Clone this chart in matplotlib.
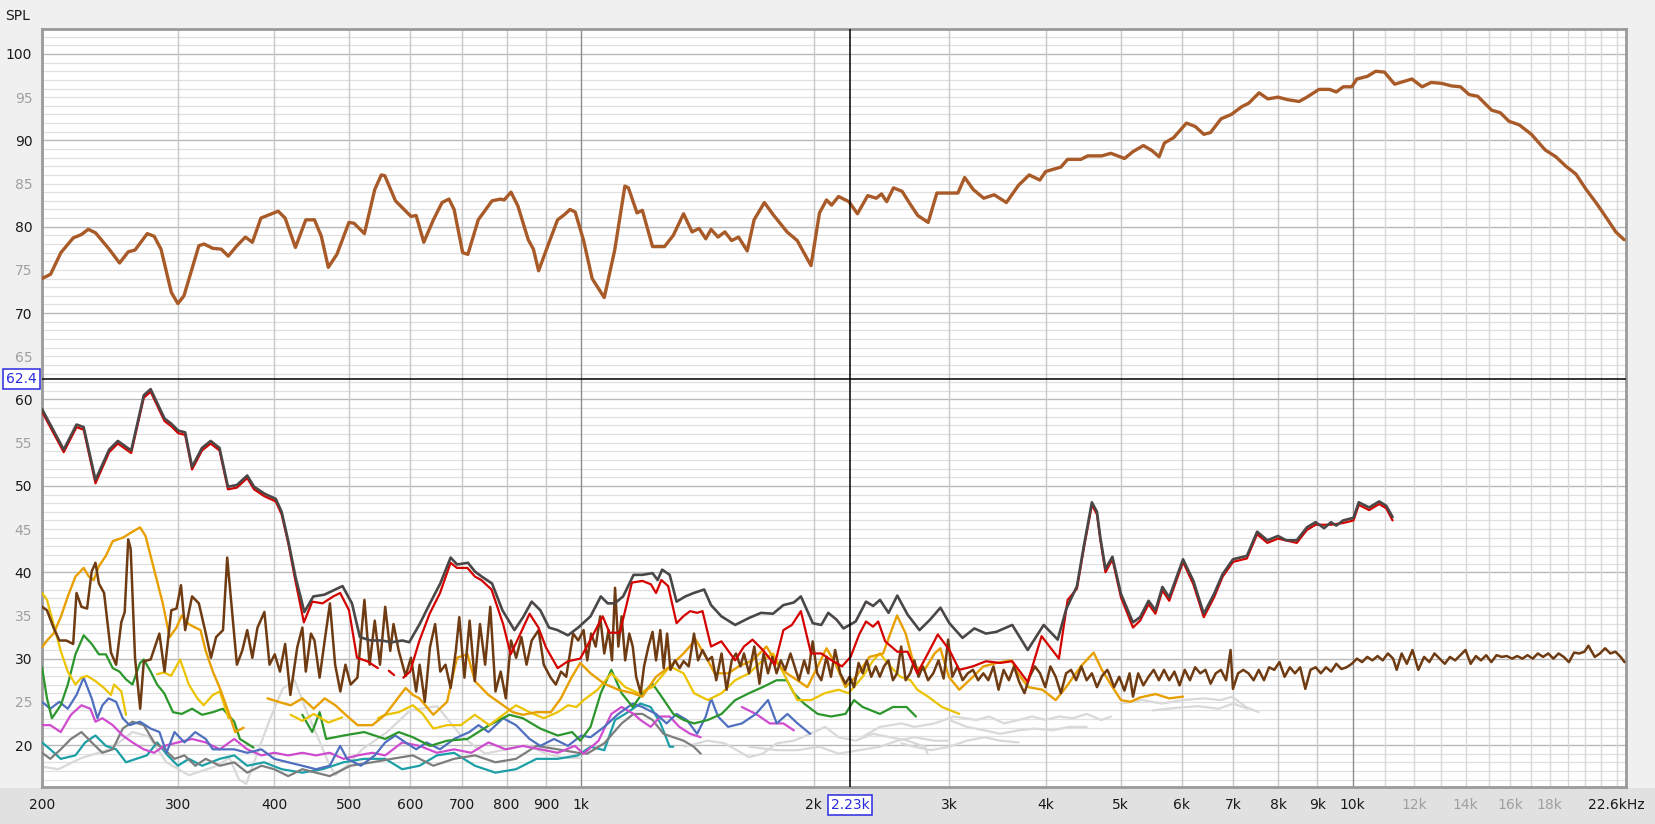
import numpy as np
import matplotlib
matplotlib.use("Agg")
import matplotlib.pyplot as plt
from matplotlib.patches import Rectangle
import matplotlib.transforms as mtransforms

N = None
# ---------------- data (Hz, dB SPL) ----------------
top_f = [200, 205.2, 211.6, 219.5, 225, 229.6, 234.6, 244.4, 252.1, 258.7, 264, 273.8, 279.5, 285.3, 294.2, 300, 305.5,
         319.4, 324.4, 332.9, 341.5, 348.7, 357.8, 367, 374.7, 384.4, 394.4, 404.7, 413.2, 426.1, 439.5, 451, 460.3,
         470, 482.2, 499.9, 507.6, 523.5, 539.9, 550.6, 556.4, 574.3, 586.3, 601.5, 610.9, 625, 643.2, 660, 673.7,
         684.2, 701.9, 712.9, 735.3, 766.2, 786.2, 794.4, 810.8, 827.7, 853.6, 866.9, 880.4, 903.3, 931.7, 951, 967,
         982, 1007, 1033, 1071, 1105, 1139, 1151, 1181, 1200, 1237, 1282, 1316, 1357, 1392, 1421, 1450, 1473, 1504,
         1535, 1566, 1599, 1641, 1675, 1727, 1773, 1848, 1905, 1985, 2036, 2079, 2111, 2155, 2223, 2280, 2351, 2412,
         2450, 2488, 2539, 2605, 2674, 2730, 2816, 2890, 3000, 3077, 3140, 3222, 3324, 3429, 3556, 3688, 3807, 3929,
         4000, 4184, 4269, 4442, 4534, 4727, 4858, 5060, 5190, 5353, 5494, 5610, 5700, 5857, 6087, 6250, 6410, 6540,
         6750, 6960, 7180, 7330, 7560, 7760, 8000, 8240, 8520, 8720, 9040, 9330, 9520, 9720, 9970, 10120, 10440,
         10710, 10990, 11330, 11630, 11930, 12300, 12630, 13030, 13430, 13790, 14150, 14520, 15130, 15530, 15940,
         16430, 17040, 17750, 18330, 18890, 19460, 20070, 20700, 21330, 21920, 22470]
top_db = [74.0, 74.5, 77.0, 78.7, 79.1, 79.7, 79.3, 77.4, 75.8, 77.1, 77.3, 79.2, 78.9, 77.4, 72.4, 71.1, 72.0,
          77.8, 78.0, 77.5, 77.4, 76.6, 77.8, 78.8, 78.2, 81.0, 81.4, 81.8, 81.0, 77.6, 80.8, 80.8, 78.9,
          75.3, 76.8, 80.5, 80.4, 79.2, 84.3, 86.0, 85.9, 83.0, 82.2, 81.2, 81.3, 78.2, 80.8, 82.8, 83.2,
          82.0, 77.0, 76.8, 80.8, 83.0, 83.2, 83.1, 84.0, 82.4, 78.5, 77.4, 74.9, 77.6, 80.8, 81.4, 82.0,
          81.7, 78.4, 74.0, 71.8, 77.3, 84.7, 84.5, 81.6, 81.9, 77.7, 77.7, 79.0, 81.5, 79.4, 79.8, 78.6, 79.7, 78.8,
          79.4, 78.4, 78.8, 77.2, 80.8, 82.8, 81.4, 79.4, 78.4, 75.5, 81.6, 83.1, 82.5, 83.5, 82.9, 81.5, 83.6, 83.3,
          83.8, 82.9, 84.5, 84.1, 82.5, 81.3, 80.5, 83.9, 83.9, 83.9, 85.7, 84.3, 83.3, 83.7, 82.8, 84.8, 86.0, 85.4,
          86.4, 86.9, 87.8, 87.8, 88.2, 88.2, 88.5, 87.9, 88.7, 89.4, 88.8, 88.1, 89.7, 90.3, 92.0, 91.6, 90.7, 90.9,
          92.5, 93.0, 93.9, 94.3, 95.5, 94.8, 95.0, 94.7, 94.5, 95.0, 95.9, 95.9, 95.6, 96.2, 96.2, 97.1, 97.4,
          98.0, 97.9, 96.5, 96.8, 97.1, 96.2, 96.7, 96.6, 96.3, 96.2, 95.3, 95.1, 93.5, 93.2, 92.2,
          91.8, 90.7, 88.9, 88.1, 87.0, 86.1, 84.3, 82.7, 81.0, 79.4, 78.5]

gray_f = [200, 213.4, 221.7, 226.5, 234.6, 244.4, 250.8, 254.5, 261, 271, 276.6, 288.3, 294.2, 300.3, 306.6, 313,
          322.4, 330.8, 339.7, 348.4, 357.8, 369, 376.6, 388.4, 401.8, 408.9, 417.4, 426.1, 437.6, 449.5, 464.4, 480,
          490.4, 504.4, 516.5, 533.3, 550.6, 568.1, 586.3, 598.4, 617.3, 636.6, 656.5, 677.1, 690.3, 712.9, 727.8,
          742.9, 766.2, 790.3, 819.2, 840.6, 862.5, 885, 908, 931.7, 961, 991, 1028, 1060, 1082, 1105, 1133, 1169,
          1200, 1237, 1256, 1273, 1302, 1329, 1364, 1399, 1443, 1473, 1519, 1583, 1649, 1710, 1772, 1828, 1886, 1926,
          1996, 2047, 2090, 2143, 2187, 2268, 2339, 2389, 2439, 2502, 2568, 2648, 2744, 2831, 2921, 3000, 3120, 3232,
          3346, 3452, 3619, 3790, 3975, 4145, 4250, 4390, 4480, 4590, 4660, 4708, 4780, 4880, 5006, 5189, 5300, 5436,
          5549, 5665, 5782, 6025, 6214, 6410, 6610, 6782, 6993, 7290, 7516, 7750, 8000, 8200, 8460, 8720, 8950, 9180,
          9370, 9520, 9716, 10020, 10180, 10500, 10820, 11050, 11260]
gray_db = [58.9, 54.2, 57.1, 56.8, 50.7, 54.2, 55.2, 54.8, 54.1, 60.5, 61.2, 57.8, 57.2, 56.4, 56.2, 52.2,
           54.4, 55.2, 54.4, 49.9, 50.1, 51.2, 49.9, 49.1, 48.5, 47.0, 43.5, 39.5, 35.4, 37.2, 37.4, 38.0,
           38.4, 36.4, 32.5, 32.1, 32.1, 31.9, 32.1, 31.9, 34.0, 36.4, 38.7, 41.7, 40.9, 41.1, 40.1,
           39.5, 38.7, 35.6, 33.3, 34.8, 36.6, 35.6, 33.6, 33.3, 32.7, 33.6, 34.9, 37.2, 36.4, 36.4, 37.2, 39.7,
           39.7, 39.9, 39.1, 40.3, 39.7, 36.6, 37.2, 37.6, 38.0, 36.2, 34.9, 33.9, 34.7, 35.3, 35.2, 36.2, 36.5, 37.2,
           34.1, 33.9, 35.3, 34.5, 33.5, 34.3, 36.6, 36.1, 36.8, 35.3, 37.3, 35.1, 33.3, 34.5, 35.9, 34.1, 32.4, 33.5,
           32.9, 33.1, 33.9, 31.0, 33.9, 32.2, 35.7, 38.4, 43.0, 48.1, 47.0, 44.0, 40.4, 41.8, 37.5, 34.2, 34.8, 36.7,
           35.6, 38.3, 37.1, 41.5, 39.0, 35.2, 37.5, 39.8, 41.5, 41.9, 44.7, 43.7, 44.2, 43.7, 43.7, 45.2, 45.8, 45.1,
           45.8, 45.4, 46.0, 46.3, 48.1, 47.5, 48.2, 47.7, 46.4]

red_f = [200, 213.4, 221.7, 226.5, 234.6, 244.4, 250.8, 254.5, 261, 271, 276.6, 288.3, 294.2, 300.3, 306.6, 313,
         322.4, 330.8, 339.7, 348.4, 357.8, 369, 376.6, 388.4, 401.8, 408.9, 417.4, 426.1, 437, 448, 462, 477, 487,
         500, 512, 528, 545, 556, 563, 572, 580, 588, 600, 617, 636, 656, 677, 690, 712, 728, 742, 765, 792, 810, 830,
         857, 880, 900, 932, 961, 997, 1028, 1066, 1088, 1122, 1163, 1200, 1231, 1250, 1270, 1296, 1329, 1356, 1384,
         1413, 1436, 1473, 1519, 1583, 1625, 1667, 1719, 1781, 1828, 1875, 1926, 1985, 2047, 2111, 2177, 2234, 2292,
         2339, 2389, 2426, 2477, 2568, 2648, 2726, 2814, 2898, 3000, 3090, 3217, 3346, 3488, 3619, 3790, 3950, 4160,
         4270, 4390, 4480, 4590, 4660, 4708, 4780, 4880, 5006, 5189, 5300, 5436, 5549, 5665, 5782, 6025, 6214, 6410,
         6610, 6782, 6993, 7290, 7516, 7750, 8000, 8460, 8720, 8950, 9370, 9716, 10020, 10180, 10500, 10820, 11050,
         11260]
red_db = [58.6, 53.9, 56.8, 56.5, 50.3, 53.9, 54.9, 54.5, 53.8, 60.2, 60.9, 57.5, 56.9, 56.1, 55.9, 51.9,
          54.1, 54.9, 54.1, 49.6, 49.8, 50.9, 49.6, 48.8, 48.2, 46.7, 43.2, 39.0, 34.2, 36.6, 36.4, 37.2, 37.6,
          35.6, 30.1, 29.7, 28.9, N, 28.6, 28.1, N, 27.8, 28.5, 32.1, 35.2, 37.6, 41.1, 40.5, 40.5, 39.5, 39.1, 38.0,
          34.0, 30.5, 32.5, 35.2, 33.6, 31.3, 28.9, 29.7, 30.0, 32.2, 34.9, 33.0, 33.0, 38.8, 39.0, 38.6, 37.6,
          39.1, 38.4, 34.1, 34.9, 35.5, 35.3, 35.5, 31.4, 32.0, 29.8, 31.4, 32.2, 31.0, 29.3, 33.3, 33.9, 35.5, 30.6,
          30.6, 29.8, 29.1, 30.2, 32.8, 34.3, 33.7, 34.3, 32.0, 30.8, 30.8, 28.3, 30.6, 32.8, 31.0, 28.7, 29.1, 29.7,
          29.5, 29.7, 27.3, 32.6, 30.0, 36.8, 38.1, 42.7, 47.8, 46.7, 43.7, 40.0, 41.5, 37.1, 33.6, 34.4, 36.3, 35.2,
          37.9, 36.7, 41.2, 38.6, 34.8, 37.1, 39.5, 41.2, 41.6, 44.4, 43.4, 43.9, 43.4, 44.9, 45.5, 45.5, 45.7, 46.0,
          47.8, 47.2, 47.9, 47.4, 46.0]

brown_f = [200, 203, 207, 210.6, 215, 219.5, 221.7, 225, 228.8, 232, 234.6, 237, 240.7, 245.7, 249.5, 253.4, 256,
           258.7, 260.6, 264, 268.1, 271, 276.6, 283.9, 288.3, 294.2, 298.8, 302.8, 306.6, 313, 319.4, 326.1, 331.2,
           336.3, 343.3, 347.6, 352.3, 357.8, 363.5, 369, 374.7, 380.5, 388.4, 394.4, 400.6, 406.9, 413.2, 419.7,
           428.4, 435, 439.5, 446.3, 451, 458, 465, 472.3, 479.7, 487.2, 494.7, 502.4, 512.7, 523.5, 531.7, 539.9,
           548.4, 557, 565.5, 571, 580, 592, 601.5, 610.9, 617.3, 626.9, 636.6, 646.5, 656.5, 666.8, 677.1, 687.7,
           694.8, 705.6, 716.6, 727.8, 739.1, 750.6, 762.2, 774.1, 786.2, 798.4, 810.8, 823.4, 836.3, 849.3, 862.5,
           880.4, 894.1, 912.7, 926.9, 941.4, 956, 976, 991,
           1007, 1018, 1030, 1044, 1058, 1071, 1085, 1096, 1106, 1117, 1128, 1140, 1154, 1166, 1178, 1194, 1206,
           1222, 1237, 1250, 1266, 1279, 1292, 1305, 1323, 1341, 1357, 1378, 1400, 1417, 1436, 1459, 1477, 1496,
           1520, 1543, 1567, 1587, 1608, 1625, 1650, 1676, 1702, 1723, 1746, 1769, 1791, 1814, 1838, 1867, 1890,
           1915, 1945, 1969, 1995, 2022, 2047, 2079, 2107, 2133, 2166, 2200, 2227, 2257, 2288, 2316, 2345, 2376,
           2408, 2438, 2468, 2501, 2535, 2566, 2598, 2633, 2669, 2702, 2736, 2772, 2815, 2859, 2904, 2949, 2989,
           3026, 3073, 3121, 3169, 3219, 3269, 3320, 3370, 3422, 3474, 3527, 3583, 3638, 3695, 3753, 3812, 3872,
           3932, 3994, 4056, 4120, 4184, 4250, 4314, 4380, 4449, 4519, 4590, 4660, 4732,
           4806, 4830, 4904, 4980, 5058, 5136, 5189, 5270, 5352, 5436, 5520, 5606, 5693, 5782, 5872, 5963, 6056,
           6150, 6246, 6343, 6441, 6542, 6643, 6747, 6851, 6943, 6993, 7101, 7212, 7324, 7438, 7553, 7671, 7790,
           7911, 8034, 8159, 8286, 8415, 8546, 8679, 8813, 8951, 9090, 9231, 9373, 9519, 9666, 9817, 9969, 10124,
           10281, 10441, 10603, 10768, 10935, 11105, 11278, 11400, 11570, 11750, 11950, 12160, 12372, 12564, 12760,
           12958, 13160, 13364, 13572, 13783, 13998, 14216, 14437, 14661, 14889, 15121, 15356, 15595, 15837, 16084,
           16334, 16588, 16846, 17108, 17374, 17644, 17919, 18197, 18480, 18768, 19060, 19356, 19657, 19963, 20200,
           20589, 20909, 21234, 21565, 21900, 22241, 22500]
brown_db = [36.0, 35.6, 33.6, 32.1, 32.1, 31.7, 37.6, 36.0, 35.8, 40.1, 41.1, 38.7, 37.6, 30.7, 29.3, 34.2, 35.4,
            43.8, 42.7, 30.1, 24.2, 29.7, 29.9, 32.9, 28.5, 35.6, 35.8, 38.5, 33.3, 37.2, 36.4, 32.9, 30.1,
            32.5, 33.3, 41.7, 36.0, 29.3, 30.9, 33.3, 30.1, 33.6, 35.4, 29.3, 30.5, 28.5, 31.7, 25.8,
            31.3, 33.6, 28.5, 32.9, 32.1, 27.8, 32.1, 36.4, 29.3, 26.2, 29.3, 27.0, 27.8, 36.8, 29.3, 34.4,
            29.3, 36.0, 30.9, 34.0, 30.9, 28.0, 30.1, 26.2, 29.3, 25.0, 31.3, 34.0, 28.5, 29.3, 26.6, 30.9,
            34.8, 27.8, 34.4, 27.4, 34.0, 29.3, 36.0, 26.2, 28.5, 25.4, 32.1, 30.1, 32.5, 29.3, 32.1,
            33.3, 29.3, 27.8, 27.0, 28.5, 27.9, 32.9, 32.1,
            33.3, 29.8, 32.9, 31.4, 34.9, 30.6, 33.3, 29.8, 38.2, 31.4, 34.9, 29.8, 32.9, 31.4, 27.9, 26.0, 29.1,
            31.4, 33.1, 29.8, 33.3, 28.9, 32.9, 28.7, 29.8, 28.9, 29.7, 29.1, 32.9, 29.8, 31.0, 29.8, 30.2, 27.5,
            30.6, 26.4, 29.8, 30.6, 29.1, 30.6, 28.3, 31.4, 27.1, 30.6, 28.3, 30.2, 28.3, 29.8, 28.7, 30.6, 29.1,
            27.5, 29.8, 28.3, 32.0, 28.3, 27.5, 30.2, 27.9, 31.0, 28.3, 27.1, 27.9, 26.7, 29.5, 28.3, 29.8, 27.9,
            29.1, 27.9, 29.1, 29.8, 27.5, 28.3, 31.4, 27.5, 28.3, 29.8, 27.9, 29.1, 27.5, 28.3, 29.8, 27.7, 32.2,
            27.9, 29.1, 27.5, 28.3, 28.7, 27.5, 28.3, 27.5, 29.1, 26.4, 28.7, 27.5, 29.1, 27.3, 26.0, 27.9, 29.1,
            28.3, 26.7, 29.1, 27.9, 26.0, 28.3, 28.7, 27.5, 29.1, 27.5, 28.3, 26.7, 28.0,
            28.7, 28.3, 26.7, 27.9, 26.3, 28.3, 25.6, 28.3, 26.9, 27.9, 28.7, 27.5, 28.7, 27.5, 28.5, 26.9, 28.7,
            27.5, 29.0, 28.3, 28.7, 27.1, 28.3, 28.7, 27.5, 31.0, 26.5, 28.3, 28.7, 28.3, 27.5, 28.7, 27.5, 29.0,
            28.7, 29.6, 27.9, 29.0, 28.3, 29.0, 26.5, 28.7, 29.0, 28.3, 29.0, 28.5, 29.4, 28.8, 29.0, 29.4, 30.0,
            29.6, 30.2, 29.8, 30.3, 29.8, 30.6, 30.0, 28.7, 30.6, 29.4, 31.0, 28.7, 30.2, 29.6, 30.6,
            30.0, 29.4, 30.2, 29.8, 30.4, 31.0, 29.4, 30.3, 29.8, 30.4, 29.6, 30.4, 30.2, 30.3, 30.0,
            30.3, 30.0, 30.4, 30.0, 30.6, 30.2, 30.6, 30.0, 30.6, 30.2, 29.6, 30.7, 30.6, 30.8, 31.5,
            30.2, 30.6, 31.2, 30.6, 30.8, 30.2, 29.6]

orange_f = [200, 203, 207, 211.5, 216, 221, 226.5, 230, 233.4, 237, 242, 247, 254.5, 261, 268, 272.4, 279.5, 286.8,
            292.7, 298.8, 303.5, 309.8, 316, 321, 326, 333, 340, 349, 356, 365, 380, 392, 405, 420, 435, 450, 465,
            480, 495, 513, 536, 557, 592, 605, 617, 643, 670, 690, 712, 728, 758, 792, 815, 840, 875, 913, 941, 971,
            997, 1028, 1071, 1117, 1166, 1200, 1250, 1303, 1357, 1407, 1459, 1489, 1551, 1600, 1667, 1738, 1791,
            1847, 1905, 1964, 2025, 2079, 2133, 2200, 2270, 2364, 2462, 2515, 2566, 2633, 2702, 2786, 2871, 2920,
            2995, 3090, 3219, 3320, 3456, 3610, 3680, 3797, 3960, 4120, 4250, 4440, 4614, 4730, 4850, 5006, 5150,
            5300, 5550, 5780, 6025]
orange_db = [31.3, 32.1, 32.9, 34.8, 37.2, 39.5, 40.5, 39.5, 39.1, 40.7, 41.9, 43.6, 44.0, 44.6, 45.2, 44.2, 40.3, 36.4,
             32.5, 33.6, 35.0, 34.0, 33.6, 33.3, 30.9, 28.5, 26.6, 23.8, 21.5, 22.0, N, 25.4, 25.0, 24.6, 25.4, 24.2,
             25.4, 24.6, 23.5, 22.3, 22.3, 23.5, 26.6, 25.8, 25.4, 23.5, 25.0, 30.1, 30.5, 27.4, 25.8, 24.6, 23.8,
             23.5, 23.8, 23.8, 25.4, 27.8, 29.5, 28.3, 27.1, 26.4, 26.0, 25.6, 27.9, 29.1, 30.6, 32.2, 29.8, 28.3,
             28.3, 29.1, 29.8, 31.4, 29.5, 28.3, 27.5, 26.7, 29.1, 31.2, 29.5, 26.7, 27.9, 30.2, 30.6, 32.9, 35.0,
             32.9, 29.1, 28.7, 30.6, 31.2, 27.9, 26.4, 27.9, 29.1, 29.5, 29.8, 28.3, 26.7, 26.4, 25.2, 26.7, 29.1,
             30.7, 28.7, 27.1, 25.2, 25.0, 25.5, 25.9, 25.4, 25.6]

yellow_f = [200, 203, 207, 211.5, 216, 221, 225, 228.8, 234.6, 240.7, 245.7, 248, 253.4, 257, 270, 282, 288, 294,
            302, 310, 318, 324, 333, 340, 349, 360, 420, 435, 450, 470, 490, 520, 545, 557, 580, 605, 623, 643, 670,
            698, 728, 760, 792, 823, 857, 894, 932, 961, 986, 1007, 1050, 1094, 1140, 1187, 1237, 1303, 1357,
            1400, 1459, 1520, 1583, 1650, 1718, 1773, 1829, 1906, 1985, 2068, 2155, 2220, 2316, 2390, 2438, 2515,
            2592, 2671, 2726, 2815, 2934, 3090]
yellow_db = [37.6, 36.8, 34.0, 30.9, 28.5, 27.0, 27.8, 28.0, 27.4, 26.6, 25.8, 27.0, 26.2, 23.5, N, 28.2, 28.4, 28.0,
             29.9, 27.0, 25.4, 24.6, 25.8, 26.2, 23.1, N, 23.5, 22.8, 23.6, 22.6, 23.2, N, 23.1, 23.5, 23.8, 24.6,
             23.6, 21.9, 22.3, 22.3, 23.5, 22.3, 23.5, 24.6, 23.8, 23.1, 23.8, 24.6, 24.4, 25.2, 26.4, 28.3, 26.7,
             26.0, 26.7, 29.1, 28.3, 26.0, 25.2, 26.0, 27.5, 28.3, 29.8, 30.6, 28.3, 25.2, 25.2, 26.0, 26.4, 26.0,
             27.9, 29.8, 30.6, 29.1, 27.9, 27.5, 26.4, 25.6, 24.4, 23.6]

green_f = [200, 203, 206, 211.5, 216, 221, 226.5, 232, 237, 242, 247, 252, 257, 262, 268, 271, 276.6, 282, 288, 295.7,
           303.5, 313, 322.5, 333, 343, 355, 361, 376, 420, 435, 448, 458, 467, 492, 523, 557, 580, 605, 637, 670,
           712, 760, 807, 840, 885, 932, 973, 997, 1028, 1060, 1094, 1128, 1166, 1200, 1237, 1280, 1316, 1357, 1400,
           1459, 1520, 1583, 1650, 1718, 1791, 1847, 1886, 1944, 2025, 2107, 2200, 2257, 2316, 2438, 2535, 2640,
           2715]
green_db = [29.0, 25.4, 23.1, 24.6, 27.0, 30.5, 32.7, 31.7, 30.5, 30.5, 28.9, 28.5, 27.6, 27.0, 29.5, 29.9, 28.5, 27.0,
            26.0, 23.8, 23.6, 24.2, 23.5, 23.8, 24.2, 22.7, 20.7, 19.7, N, 23.5, 21.5, 23.8, 20.7, 21.1, 21.5, 20.7,
            21.5, 20.9, 19.9, 20.5, 20.7, 22.3, 23.5, 23.1, 21.9, 21.1, 21.5, 20.5, 22.1, 26.0, 28.7, 26.0, 24.4,
            26.0, 27.1, 25.2, 23.6, 22.9, 22.5, 22.9, 23.6, 25.2, 26.0, 26.7, 27.5, 27.5, 26.0, 24.8, 23.6, 23.3,
            23.6, 25.2, 24.4, 23.6, 24.4, 24.4, 23.3]

blue_f = [200, 205, 210.6, 216, 221.7, 226.5, 232, 236, 239.5, 244, 249.5, 254.5, 259.7, 268, 276.6, 284, 290, 297,
          306, 316, 326, 333, 355, 369, 385, 400, 417, 435, 453, 472, 487, 497, 518, 540, 557, 574, 592, 611, 630,
          656, 684, 716, 736, 758, 792, 823, 857, 885, 922, 961, 1000, 1028, 1071, 1117, 1166, 1200, 1250, 1290,
          1329, 1370, 1413, 1450, 1473, 1504, 1550, 1615, 1684, 1746, 1792, 1850, 1907, 1980]
blue_db = [25.0, 24.2, 25.0, 24.2, 25.8, 27.8, 25.4, 23.1, 24.6, 25.4, 25.0, 23.1, 22.3, 22.7, 21.9, 21.5, 19.1, 21.5,
           20.3, 21.5, 20.7, 19.5, 19.5, 19.1, 19.5, 18.4, 18.0, 17.6, 17.2, 17.6, 19.9, 18.4, 17.6, 18.8, 20.3,
           21.1, 20.3, 19.5, 20.3, 19.5, 20.7, 21.5, 22.3, 21.5, 23.1, 22.3, 20.7, 19.9, 20.7, 19.9, 21.1, 20.9,
           22.1, 23.6, 24.8, 24.4, 23.6, 22.5, 23.6, 22.9, 21.3, 23.3, 25.4, 23.3, 22.1, 22.5, 23.6, 25.2, 22.5,
           23.6, 22.5, 21.3]

magenta_f = [200, 205, 211.5, 218, 225, 231, 234.6, 239.5, 247, 254.5, 262, 271, 279.5, 288, 300, 313, 326, 340, 355,
             369, 385, 400, 417, 435, 453, 472, 492, 513, 536, 557, 586, 617, 650, 684, 720, 758, 798, 840, 885, 932,
             981, 1007, 1053, 1094, 1128, 1169, 1193, 1230, 1267, 1302, 1340, 1384, 1428, 1520, 1615, 1684, 1755,
             1828, 1886]
magenta_db = [22.3, 22.3, 21.5, 23.5, 24.6, 24.2, 22.7, 23.1, 22.3, 21.1, 20.3, 19.5, 19.1, 19.9, 20.3, 20.7, 20.3,
              19.5, 20.7, 19.5, 18.8, 19.1, 18.8, 19.1, 18.8, 19.1, 18.4, 18.8, 19.1, 18.8, 20.3, 19.9, 19.1, 19.5,
              19.1, 20.3, 19.5, 19.9, 19.5, 19.1, 19.9, 19.0, 20.5, 23.6, 24.4, 23.6, 22.9, 22.1, 23.3, 23.3, 22.1,
              21.3, 20.9, N, 24.4, 23.6, 22.5, 22.5, 21.7]

teal_f = [200, 205, 211.5, 221, 227.5, 234.6, 242, 249.5, 257, 265, 273.5, 282, 291, 300, 310, 322.5, 340, 355, 369,
          388, 409, 435, 462, 492, 523, 557, 586, 617, 650, 684, 728, 774, 823, 875, 932, 990, 1028, 1071, 1106,
          1140, 1193, 1230, 1267, 1302, 1316]
teal_db = [20.3, 19.5, 18.4, 18.8, 20.3, 21.1, 19.9, 19.5, 18.0, 18.4, 18.8, 20.3, 18.8, 17.6, 18.4, 17.6, 18.4, 18.8,
           17.6, 18.0, 17.2, 16.8, 17.2, 18.0, 18.4, 18.4, 17.2, 17.6, 18.8, 19.1, 17.6, 16.8, 17.2, 18.4, 18.4,
           18.8, 19.8, 19.4, 22.9, 23.6, 24.8, 24.4, 22.5, 19.8, 19.8]

midgray_f = [200, 205, 211.5, 218, 225, 232, 239.5, 247, 254.5, 262, 271, 279.5, 288, 297, 306, 316, 326, 340, 355,
             369, 385, 400, 417, 435, 453, 472, 502, 536, 568, 605, 643, 684, 728, 774, 823, 875, 932, 990, 1018,
             1071, 1128, 1169, 1200, 1237, 1278, 1316, 1357, 1399, 1428]
midgray_db = [19.1, 18.4, 19.5, 20.7, 21.5, 20.3, 19.1, 19.5, 21.9, 22.7, 22.3, 20.3, 19.5, 18.4, 18.8, 17.6, 18.4,
              17.6, 18.0, 16.8, 17.6, 17.2, 16.4, 17.2, 16.8, 16.4, 17.6, 18.0, 18.4, 18.8, 17.6, 18.4, 18.8, 18.0,
              18.4, 19.9, 19.5, 19.1, 19.0, 20.2, 22.5, 23.6, 23.6, 22.9, 21.3, 20.9, 20.5, 19.8, 19.0]

lg1_f = [200, 210, 225, 245, 262, 275, 290, 310, 335, 350, 360, 368, 380, 395, 410, 425, 440, 455, 470, 480, 495, 520,
         560, 600, 650, 700, 750, 800, 850, 900, 950, 1000]
lg1_db = [17.5, 17.2, 18.5, 19.5, 21.5, 21.0, 18.0, 16.5, 17.5, 18.5, 16.0, 15.5, 19.0, 23.0, 26.5, 27.5, 24.0, 21.0,
          18.0, 16.5, 17.5, 19.5, 21.5, 24.0, 24.5, 21.0, 19.0, 19.5, 20.0, 19.0, 18.5, 18.5]
lga_f = [1361, 1457, 1535, 1649, 1719, 1792, 1886, 1980, 2070, 2157, 2268, 2389, 2515, 2648, 2790, 2810]
lga_db = [19.8, 20.5, 20.2, 18.6, 19.0, 20.2, 20.5, 21.3, 22.1, 20.9, 20.5, 21.3, 20.9, 20.5, 19.8, 19.0]
lgb_f = [1649, 1792, 1907, 2036, 2155, 2292, 2439, 2568, 2702, 2870, 3000]
lgb_db = [19.8, 19.4, 19.4, 19.8, 19.0, 19.4, 19.8, 20.5, 20.9, 20.5, 20.5]
lgc_f = [2310, 2439, 2600, 2702, 2870, 3040, 3250, 3380, 3530, 3690, 3840, 4000, 4160, 4340, 4520, 4720, 4860]
lgc_db = [20.9, 22.1, 22.5, 22.1, 22.5, 23.3, 22.9, 23.3, 22.5, 22.9, 23.3, 22.9, 23.3, 23.1, 23.6, 22.9, 23.3]
lgd_f = [3000, 3160, 3330, 3490, 3690, 3870, 4080, 4290, 4520]
lgd_db = [22.9, 22.1, 21.7, 21.3, 21.7, 21.9, 21.7, 22.1, 22.1]
lge_f = [2600, 2702, 2840, 3000, 3160, 3330, 3490, 3690]
lge_db = [20.2, 19.8, 19.4, 19.8, 20.5, 20.9, 20.5, 20.3]
lgf_f = [5000, 5330, 5660, 6020, 6410, 6740, 6980, 7270, 7550]
lgf_db = [24.8, 25.2, 24.8, 25.2, 25.4, 25.2, 25.6, 24.4, 23.8]
lgg_f = [5500, 5900, 6300, 6700, 7000, 7300]
lgg_db = [24.0, 24.3, 24.5, 24.2, 24.8, 24.2]

x_ticks = [200, 300, 400, 500, 600, 700, 800, 900, 1000, 2000, 3000, 4000, 5000, 6000, 7000, 8000, 9000, 10000,
           12000, 14000, 16000, 18000, 22600]
x_labels = ["200", "300", "400", "500", "600", "700", "800", "900", "1k", "2k", "3k", "4k", "5k", "6k", "7k", "8k",
            "9k", "10k", "12k", "14k", "16k", "18k", "22.6kHz"]
x_label_gray = ["12k", "14k", "16k", "18k"]
y_ticks = [20, 25, 30, 35, 40, 45, 50, 55, 60, 65, 70, 75, 80, 85, 90, 95, 100]
cursor_f = 2230
cursor_db = 62.4

# ---------------- figure ----------------
W, H = 1656, 824
fig = plt.figure(figsize=(W / 100, H / 100), dpi=100, facecolor="#f0f0f0")
fig.patches.append(Rectangle((0, 0), 1, 36 / H, transform=fig.transFigure, color="#e1e1e1", zorder=-5))
L, R, T, B = 42, 1626, 29, 787
ax = fig.add_axes([L / W, 1 - B / H, (R - L) / W, (B - T) / H])
ax.set_zorder(2)
ax.set_facecolor("white")
ax.set_xscale("log")
ax.set_xlim(200, 22600)
ax.set_ylim(15.14, 102.89)

# grid
for d in range(16, 103):
    if d % 10 == 0:
        c, lw = "#b9b9b9", 1.0
    else:
        c, lw = "#e0e0e0", 0.9
    ax.axhline(d, color=c, lw=lw, zorder=0.5)
vlines = list(range(200, 1000, 100)) + list(range(2000, 10000, 1000)) + list(range(11000, 23000, 1000))
for v in vlines:
    ax.axvline(v, color="#c8c8c8" if v < 10000 else "#d8d8d8", lw=1.0, zorder=0.6)
for v in (1000, 10000):
    ax.axvline(v, color="#8c8c8c", lw=1.0, zorder=0.6)


def arr(a):
    return np.array([np.nan if v is None else v for v in a], dtype=float)


def line(f, d, color, lw, z):
    ax.plot(arr(f), arr(d), color=color, lw=lw, zorder=z, solid_joinstyle="round", solid_capstyle="round")


lg = "#d9d9d9"
for f, d in [(lg1_f, lg1_db), (lga_f, lga_db), (lgb_f, lgb_db), (lgc_f, lgc_db), (lgd_f, lgd_db),
             (lge_f, lge_db), (lgf_f, lgf_db), (lgg_f, lgg_db)]:
    line(f, d, lg, 1.6, 2)
line(teal_f, teal_db, "#1c9fa6", 1.6, 3)
line(midgray_f, midgray_db, "#7d7d7d", 1.6, 3.1)
line(magenta_f, magenta_db, "#cf4ccf", 1.6, 3.2)
line(blue_f, blue_db, "#4f6fbf", 1.6, 3.3)
line(green_f, green_db, "#2b962b", 1.6, 3.4)
line(yellow_f, yellow_db, "#ecc300", 1.6, 3.5)
line(orange_f, orange_db, "#e8a000", 1.7, 3.6)
line(brown_f, brown_db, "#6e3b12", 1.8, 4)
line(red_f, red_db, "#d50000", 1.6, 5)
line(gray_f, gray_db, "#4b4747", 1.9, 6)
line(top_f, top_db, "#a85a28", 2.4, 7)

# cursor
ax.axvline(cursor_f, color="black", lw=1.1, zorder=8)
ax.axhline(cursor_db, color="black", lw=1.1, zorder=8)

# spines
for s in ax.spines.values():
    s.set_color("#9a9a9a")
    s.set_linewidth(2.0)

# ticks
ax.set_xticks(x_ticks)
ax.set_xticklabels(x_labels)
ax.xaxis.set_minor_locator(matplotlib.ticker.NullLocator())
ax.set_yticks(y_ticks)
ax.set_yticklabels([str(v) for v in y_ticks])
ax.tick_params(axis="both", length=0, labelsize=10, colors="#1a1a1a")
ax.tick_params(axis="x", pad=8)
ax.tick_params(axis="y", pad=7)
shift = mtransforms.ScaledTranslation(-10 / 100, 0, fig.dpi_scale_trans)
for t in ax.get_xticklabels():
    if t.get_text() in x_label_gray:
        t.set_color("#a0a0a0")
    if t.get_text() == "22.6kHz":
        t.set_transform(t.get_transform() + shift)
for t, v in zip(ax.get_yticklabels(), y_ticks):
    if v % 10 != 0:
        t.set_color("#a0a0a0")

fig.text(5 / W, 1 - 16 / H, "SPL", fontsize=10, color="#1a1a1a", ha="left", va="center")

blue = "#2a2ae0"
trans_y = mtransforms.blended_transform_factory(ax.transAxes, ax.transData)
ax.text(-0.003, cursor_db, "62.4", transform=trans_y, ha="right", va="center", fontsize=10, color=blue,
        zorder=10, clip_on=False,
        bbox=dict(boxstyle="square,pad=0.22", facecolor="white", edgecolor=blue, lw=1.1))
trans_x = mtransforms.blended_transform_factory(ax.transData, ax.transAxes)
ax.text(cursor_f, -0.024, "2.23k", transform=trans_x, ha="center", va="center", fontsize=10, color=blue,
        zorder=10, clip_on=False,
        bbox=dict(boxstyle="square,pad=0.22", facecolor="white", edgecolor=blue, lw=1.1))

fig.savefig("out.png", dpi=100, facecolor=fig.get_facecolor())
